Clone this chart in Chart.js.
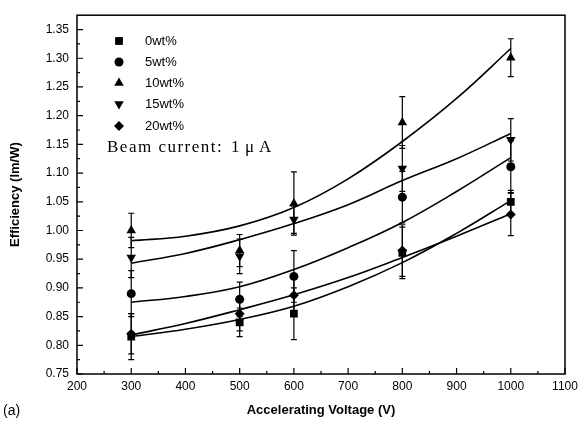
<!DOCTYPE html>
<html>
<head>
<meta charset="utf-8">
<script src="https://cdn.jsdelivr.net/npm/chart.js@4.4.1/dist/chart.umd.min.js"></script>
<style>
  html, body { margin: 0; padding: 0; background: #fff; }
</style>
</head>
<body>
<canvas id="effChart" width="583" height="428"></canvas>
<script>
// measured points
const voltages = [300, 500, 600, 800, 1000];
const seriesNames = ['0wt%', '5wt%', '10wt%', '15wt%', '20wt%'];
const eff0 = [0.815, 0.84, 0.855, 0.961, 1.05];
const eff5 = [0.89, 0.88, 0.92, 1.058, 1.111];
const eff10 = [1.00, 0.965, 1.047, 1.188, 1.301];
const eff15 = [0.953, 0.955, 1.019, 1.108, 1.158];
const eff20 = [0.82, 0.855, 0.887, 0.965, 1.028];
const err0 = [0.04, 0.025, 0.045, 0.045, 0.02];
const err5 = [0.04, 0.03, 0.045, 0.045, 0.045];
const err10 = [0.03, 0.028, 0.055, 0.045, 0.033];
const err15 = [0.035, 0.03, 0.024, 0.04, 0.037];
const err20 = [0.035, 0.03, 0.03, 0.045, 0.037];

// fitted curves
const fitX = [300, 400, 500, 600, 700, 800, 900, 1000];
const fit0 = [0.815, 0.828, 0.845, 0.868, 0.902, 0.944, 0.995, 1.052];
const fit5 = [0.875, 0.885, 0.902, 0.932, 0.97, 1.014, 1.068, 1.127];
const fit10 = [0.982, 0.99, 1.008, 1.04, 1.09, 1.155, 1.23, 1.317];
const fit15 = [0.943, 0.96, 0.984, 1.012, 1.045, 1.087, 1.125, 1.169];
const fit20 = [0.818, 0.838, 0.862, 0.888, 0.918, 0.953, 0.99, 1.029];

const yTicks = [0.75, 0.80, 0.85, 0.90, 0.95, 1.00, 1.05, 1.10, 1.15, 1.20, 1.25, 1.30, 1.35];
const xTicks = [200, 300, 400, 500, 600, 700, 800, 900, 1000, 1100];

const effs = [eff0, eff5, eff10, eff15, eff20];
const errs = [err0, err5, err10, err15, err20];
const fits = [fit0, fit5, fit10, fit15, fit20];
const markers = [
  { pointStyle: 'rect', radius: 5.5, rotation: 0 },
  { pointStyle: 'circle', radius: 4.5, rotation: 0 },
  { pointStyle: 'triangle', radius: 5.5, rotation: 0 },
  { pointStyle: 'triangle', radius: 5.5, rotation: 180 },
  { pointStyle: 'rectRot', radius: 5, rotation: 0 }
];

const datasets = [];
fits.forEach((f, i) => {
  datasets.push({
    type: 'line',
    data: fitX.map((x, j) => ({ x, y: f[j] })),
    borderColor: '#000',
    borderWidth: 1.6,
    pointRadius: 0,
    tension: 0.4,
    fill: false
  });
});
effs.forEach((e, i) => {
  datasets.push({
    type: 'scatter',
    label: seriesNames[i],
    data: voltages.map((x, j) => ({ x, y: e[j] })),
    backgroundColor: '#000',
    borderColor: '#000',
    borderWidth: 0,
    pointStyle: markers[i].pointStyle,
    pointRadius: markers[i].radius,
    rotation: markers[i].rotation
  });
});

const decor = {
  id: 'decor',
  beforeDatasetsDraw(chart) {
    const ctx = chart.ctx, xs = chart.scales.x, ys = chart.scales.y;
    ctx.save();
    ctx.strokeStyle = '#000';
    ctx.lineWidth = 1.2;
    effs.forEach((e, i) => {
      voltages.forEach((v, j) => {
        const px = xs.getPixelForValue(v);
        const top = ys.getPixelForValue(e[j] + errs[i][j]);
        const bot = ys.getPixelForValue(e[j] - errs[i][j]);
        ctx.beginPath();
        ctx.moveTo(px, top); ctx.lineTo(px, bot);
        ctx.moveTo(px - 3, top); ctx.lineTo(px + 3, top);
        ctx.moveTo(px - 3, bot); ctx.lineTo(px + 3, bot);
        ctx.stroke();
      });
    });
    ctx.restore();
  },
  afterDraw(chart) {
    const ctx = chart.ctx, a = chart.chartArea, xs = chart.scales.x, ys = chart.scales.y;
    ctx.save();
    ctx.strokeStyle = '#000';
    ctx.lineWidth = 1.5;
    ctx.strokeRect(a.left, a.top, a.right - a.left, a.bottom - a.top);

    // inward ticks
    ctx.lineWidth = 1.2;
    ctx.beginPath();
    for (let v = 200; v <= 1100; v += 50) {
      const px = xs.getPixelForValue(v);
      const len = v % 100 === 0 ? 6 : 3;
      ctx.moveTo(px, a.bottom); ctx.lineTo(px, a.bottom - len);
    }
    for (let k = 0; k <= 24; k++) {
      const v = 0.75 + k * 0.025;
      const py = ys.getPixelForValue(v);
      const len = k % 2 === 0 ? 6 : 3;
      ctx.moveTo(a.left, py); ctx.lineTo(a.left + len, py);
    }
    ctx.stroke();

    // legend inside the plot
    ctx.fillStyle = '#000';
    ctx.textBaseline = 'middle';
    ctx.font = '13px "Liberation Sans", Arial, sans-serif';
    const rowY = [41, 62, 83, 104, 126];
    seriesNames.forEach((n, i) => {
      Chart.helpers.drawPoint(ctx, {
        pointStyle: markers[i].pointStyle,
        radius: markers[i].radius,
        rotation: markers[i].rotation,
        borderWidth: 0
      }, 119, rowY[i]);
      ctx.fillStyle = '#000';
      ctx.fillText(n, 145, rowY[i]);
    });
    ctx.font = '17px "Liberation Serif", "Times New Roman", serif';
    ctx.letterSpacing = '1.5px';
    ctx.fillText('Beam current:', 107, 148);
    ctx.letterSpacing = '0px';
    ctx.fillText('1', 231, 148);
    ctx.fillText('\u03BC', 245, 148);
    ctx.fillText('A', 259, 148);

    // axis titles
    ctx.font = 'bold 13px "Liberation Sans", Arial, sans-serif';
    ctx.textAlign = 'center';
    ctx.fillText('Accelerating Voltage (V)', (a.left + a.right) / 2, 410);
    ctx.save();
    ctx.translate(15, (a.top + a.bottom) / 2);
    ctx.rotate(-Math.PI / 2);
    ctx.fillText('Efficiency (lm/W)', 0, 0);
    ctx.restore();
    ctx.textAlign = 'left';
    ctx.font = '14px "Liberation Sans", Arial, sans-serif';
    ctx.fillText('(a)', 3, 411);
    ctx.restore();
  }
};

new Chart(document.getElementById('effChart').getContext('2d'), {
  data: { datasets },
  options: {
    responsive: false,
    animation: false,
    layout: { padding: { top: 14, right: 18, left: 0, bottom: 0 } },
    plugins: { legend: { display: false }, tooltip: { enabled: false } },
    scales: {
      x: {
        type: 'linear',
        min: 200,
        max: 1100,
        afterFit: s => { s.height = 54; },
        afterBuildTicks: s => { s.ticks = xTicks.map(v => ({ value: v })); },
        grid: { display: false, drawTicks: false },
        border: { display: false },
        ticks: {
          padding: 5,
          color: '#000',
          font: { size: 12, family: '"Liberation Sans", Arial' },
          callback: v => String(v)
        }
      },
      y: {
        type: 'linear',
        min: 0.75,
        max: 1.375,
        afterFit: s => { s.width = 77; },
        afterBuildTicks: s => { s.ticks = yTicks.map(v => ({ value: v })); },
        grid: { display: false, drawTicks: false },
        border: { display: false },
        ticks: {
          padding: 8,
          color: '#000',
          font: { size: 12, family: '"Liberation Sans", Arial' },
          callback: v => v.toFixed(2)
        }
      }
    }
  },
  plugins: [decor]
});
</script>
</body>
</html>
